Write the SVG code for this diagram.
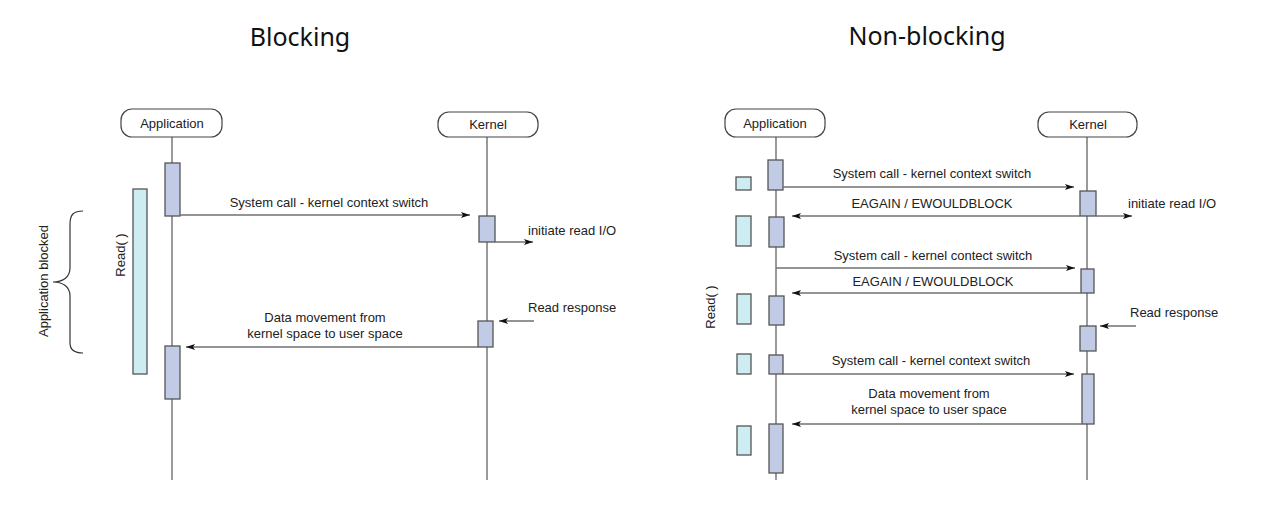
<svg xmlns="http://www.w3.org/2000/svg" width="1272" height="521" viewBox="0 0 1272 521">
<style>
.t{font-family:"Liberation Sans",Arial,sans-serif;font-size:13px;fill:#222}
.title{font-family:"Noto Sans","Open Sans",sans-serif;font-size:25px;fill:#111}
.life{stroke:#808080;stroke-width:1.6;fill:none}
.head{fill:#fff;stroke:#444;stroke-width:1.2}
.act{fill:#c1cbe5;stroke:#555;stroke-width:1.3}
.cy{fill:#cdedf3;stroke:#555;stroke-width:1.3}
.msg{stroke:#707070;stroke-width:1.5;fill:none}
.msgl{stroke:#707070;stroke-width:1.5;fill:none;marker-start:url(#al)}
.msgr{stroke:#707070;stroke-width:1.5;fill:none;marker-end:url(#ar)}
</style>
<defs>
<marker id="ar" markerWidth="10" markerHeight="8" refX="9" refY="4" orient="auto" markerUnits="userSpaceOnUse"><path d="M0,1 L9,4 L0,7 L2,4 Z" fill="#111"/></marker>
<marker id="al" markerWidth="10" markerHeight="8" refX="1" refY="4" orient="auto" markerUnits="userSpaceOnUse"><path d="M10,1 L1,4 L10,7 L8,4 Z" fill="#111"/></marker>
</defs>
<rect width="1272" height="521" fill="#fff"/>
<text class="title" x="300" y="46" text-anchor="middle">Blocking</text>
<text class="title" x="927" y="45" text-anchor="middle">Non-blocking</text>

<!-- Blocking -->
<g id="b-app-life"><line class="life" x1="172" y1="137" x2="172" y2="480"/></g>
<g id="b-kernel-life"><line class="life" x1="487" y1="137" x2="487" y2="480"/></g>
<g id="b-app"><rect class="head" x="121" y="109" width="101" height="28" rx="11"/><text class="t" x="172" y="128" text-anchor="middle">Application</text></g>
<g id="b-kernel"><rect class="head" x="438" y="112" width="100" height="25" rx="11"/><text class="t" x="488" y="129" text-anchor="middle">Kernel</text></g>
<g id="b-read"><rect class="cy" x="133" y="189" width="14" height="185"/><text class="t" transform="translate(125,255) rotate(-90)" text-anchor="middle">Read( )</text></g>
<g id="b-blocked"><path d="M83,211 C74,211 70,214 70,224 L70,268 C70,278 62,282 53,282 C62,282 70,286 70,296 L70,343 C70,350 74,353 83,353" fill="none" stroke="#333" stroke-width="1.2"/><text class="t" transform="translate(48,281) rotate(-90)" text-anchor="middle">Application blocked</text></g>
<g id="b-a1"><rect class="act" x="165" y="163" width="15" height="53"/></g>
<g id="b-a2"><rect class="act" x="165" y="346" width="15" height="53"/></g>
<g id="b-k1"><rect class="act" x="479" y="216" width="16" height="26"/></g>
<g id="b-k2"><rect class="act" x="478" y="321" width="15" height="26"/></g>
<g id="b-connectors">
<line class="msgr" x1="180" y1="215" x2="470" y2="215"/>
<line class="msgr" x1="495" y1="242" x2="533" y2="242"/>
<line class="msgl" x1="499" y1="321" x2="534" y2="321"/>
<line class="msgl" x1="186" y1="347" x2="478" y2="347"/>
</g>
<text class="t" x="329" y="207" text-anchor="middle">System call - kernel context switch</text>
<text class="t" x="528" y="235">initiate read I/O</text>
<text class="t" x="528" y="312">Read response</text>
<text class="t" x="325" y="322" text-anchor="middle">Data movement from</text>
<text class="t" x="325" y="338" text-anchor="middle">kernel space to user space</text>

<!-- Non-blocking -->
<g id="n-app-life"><line class="life" x1="776" y1="137" x2="776" y2="480"/></g>
<g id="n-kernel-life"><line class="life" x1="1087" y1="137" x2="1087" y2="480"/></g>
<g id="n-app"><rect class="head" x="725" y="109" width="100" height="28" rx="11"/><text class="t" x="775" y="128" text-anchor="middle">Application</text></g>
<g id="n-kernel"><rect class="head" x="1038" y="112" width="99" height="25" rx="11"/><text class="t" x="1088" y="129" text-anchor="middle">Kernel</text></g>
<g id="n-read-label"><text class="t" transform="translate(715,307) rotate(-90)" text-anchor="middle">Read( )</text></g>
<g id="n-c1"><rect class="cy" x="736" y="177" width="15" height="13"/></g>
<g id="n-c2"><rect class="cy" x="736" y="216" width="15" height="30"/></g>
<g id="n-c3"><rect class="cy" x="737" y="294" width="14" height="30"/></g>
<g id="n-c4"><rect class="cy" x="737" y="354" width="14" height="20"/></g>
<g id="n-c5"><rect class="cy" x="737" y="426" width="14" height="29"/></g>
<g id="n-a1"><rect class="act" x="768" y="160" width="15" height="30"/></g>
<g id="n-a2"><rect class="act" x="769" y="217" width="15" height="30"/></g>
<g id="n-a3"><rect class="act" x="769" y="296" width="15" height="29"/></g>
<g id="n-a4"><rect class="act" x="769" y="355" width="14" height="19"/></g>
<g id="n-a5"><rect class="act" x="769" y="424" width="14" height="49"/></g>
<g id="n-k1"><rect class="act" x="1080" y="191" width="16" height="25"/></g>
<g id="n-k2"><rect class="act" x="1081" y="269" width="13" height="24"/></g>
<g id="n-k3"><rect class="act" x="1080" y="326" width="16" height="25"/></g>
<g id="n-k4"><rect class="act" x="1082" y="374" width="12" height="50"/></g>
<g id="n-connectors">
<line class="msgr" x1="783" y1="187" x2="1074" y2="187"/>
<line class="msgl" x1="792" y1="216" x2="1080" y2="216"/>
<line class="msgr" x1="1096" y1="216" x2="1132" y2="216"/>
<line class="msgr" x1="776" y1="268" x2="1075" y2="268"/>
<line class="msgl" x1="792" y1="293" x2="1081" y2="293"/>
<line class="msgl" x1="1100" y1="326" x2="1136" y2="326"/>
<line class="msgr" x1="783" y1="374" x2="1074" y2="374"/>
<line class="msgl" x1="792" y1="424" x2="1082" y2="424"/>
</g>
<text class="t" x="932" y="178" text-anchor="middle">System call - kernel context switch</text>
<text class="t" x="932" y="208" text-anchor="middle">EAGAIN / EWOULDBLOCK</text>
<text class="t" x="1128" y="208">initiate read I/O</text>
<text class="t" x="933" y="260" text-anchor="middle">System call - kernel contect switch</text>
<text class="t" x="933" y="286" text-anchor="middle">EAGAIN / EWOULDBLOCK</text>
<text class="t" x="1130" y="317">Read response</text>
<text class="t" x="931" y="365" text-anchor="middle">System call - kernel context switch</text>
<text class="t" x="929" y="398" text-anchor="middle">Data movement from</text>
<text class="t" x="929" y="414" text-anchor="middle">kernel space to user space</text>
</svg>
